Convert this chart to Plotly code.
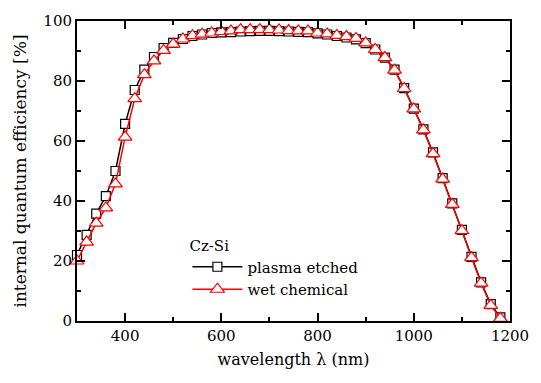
import plotly.graph_objects as go

wavelength = [300, 320, 340, 360, 380, 400, 420, 440, 460, 480, 500, 520, 540, 560, 580,
              600, 620, 640, 660, 680, 700, 720, 740, 760, 780, 800, 820, 840, 860, 880,
              900, 920, 940, 960, 980, 1000, 1020, 1040, 1060, 1080, 1100, 1120, 1140, 1160, 1180]

plasma_etched = [22.0, 28.7, 35.8, 41.6, 50.0, 65.7, 77.0, 83.8, 88.0, 91.0, 92.7, 94.0, 95.0, 95.5, 96.0,
                 96.2, 96.3, 96.5, 96.6, 96.7, 96.7, 96.6, 96.5, 96.4, 96.3, 95.9, 95.5, 95.0, 94.5, 93.9,
                 92.6, 90.5, 87.8, 83.8, 77.6, 70.8, 63.9, 56.2, 47.6, 39.2, 30.4, 21.4, 12.9, 5.6, 1.2]

wet_chemical = [20.0, 26.3, 32.6, 37.7, 45.7, 61.3, 74.1, 82.1, 86.7, 90.2, 92.3, 94.0, 95.1, 95.6, 96.0,
                96.5, 96.7, 97.1, 97.1, 97.1, 97.1, 97.0, 96.8, 96.7, 96.7, 96.0, 95.7, 95.2, 94.8, 94.2,
                92.7, 90.5, 87.8, 83.6, 77.5, 70.7, 63.7, 55.8, 47.3, 38.9, 30.1, 21.1, 12.6, 5.2, 0.9]

x_ticks = [400, 600, 800, 1000, 1200]
y_ticks = [0, 20, 40, 60, 80, 100]

FONT = "DejaVu Serif"
TICK_FS = 15
XT_FS = 16
YT_FS = 17
LEG_FS = 15

fig = go.Figure()
fig.add_trace(go.Scatter(
    x=wavelength, y=plasma_etched, name="plasma etched", mode="lines+markers",
    line=dict(color="black", width=1.5),
    marker=dict(symbol="square", size=9, color="white", line=dict(color="black", width=1.2)),
    cliponaxis=False,
))
fig.add_trace(go.Scatter(
    x=wavelength, y=wet_chemical, name="wet chemical", mode="lines+markers",
    line=dict(color="#ff0000", width=1.5),
    marker=dict(symbol="triangle-up", size=12, color="white", line=dict(color="#ff0000", width=1.2)),
    cliponaxis=False,
))

fig.update_xaxes(
    range=[300, 1200], tickvals=x_ticks,
    showline=True, linecolor="black", linewidth=2, mirror="ticks",
    ticks="inside", ticklen=8, tickwidth=1.5, tickcolor="black",
    showgrid=False, zeroline=False,
    tickfont=dict(family=FONT, size=TICK_FS, color="black"),
    minor=dict(ticks="inside", ticklen=4, tickwidth=1.5, tickcolor="black", dtick=100, tick0=300),
    title=dict(text="wavelength λ (nm)", font=dict(family=FONT, size=XT_FS, color="black"), standoff=10),
)
fig.update_yaxes(
    range=[0, 100], tickvals=y_ticks,
    showline=True, linecolor="black", linewidth=2, mirror="ticks",
    ticks="inside", ticklen=8, tickwidth=1.5, tickcolor="black",
    showgrid=False, zeroline=False,
    tickfont=dict(family=FONT, size=TICK_FS, color="black"),
    minor=dict(ticks="inside", ticklen=4, tickwidth=1.5, tickcolor="black", dtick=10, tick0=0),
    title=dict(text="internal quantum efficiency [%]", font=dict(family=FONT, size=YT_FS, color="black"), standoff=12),
)

fig.update_layout(
    width=541, height=383,
    margin=dict(l=77, r=21, t=16, b=62),
    paper_bgcolor="white", plot_bgcolor="white",
    font=dict(family=FONT, size=LEG_FS, color="black"),
    legend=dict(
        x=0.255, y=0.30, xanchor="left", yanchor="top",
        bgcolor="rgba(0,0,0,0)",
        title=dict(text="Cz-Si", font=dict(family=FONT, size=LEG_FS, color="black")),
        font=dict(family=FONT, size=LEG_FS, color="black"),
        itemwidth=50,
        tracegroupgap=0,
    ),
)

fig.write_html("out.html")
